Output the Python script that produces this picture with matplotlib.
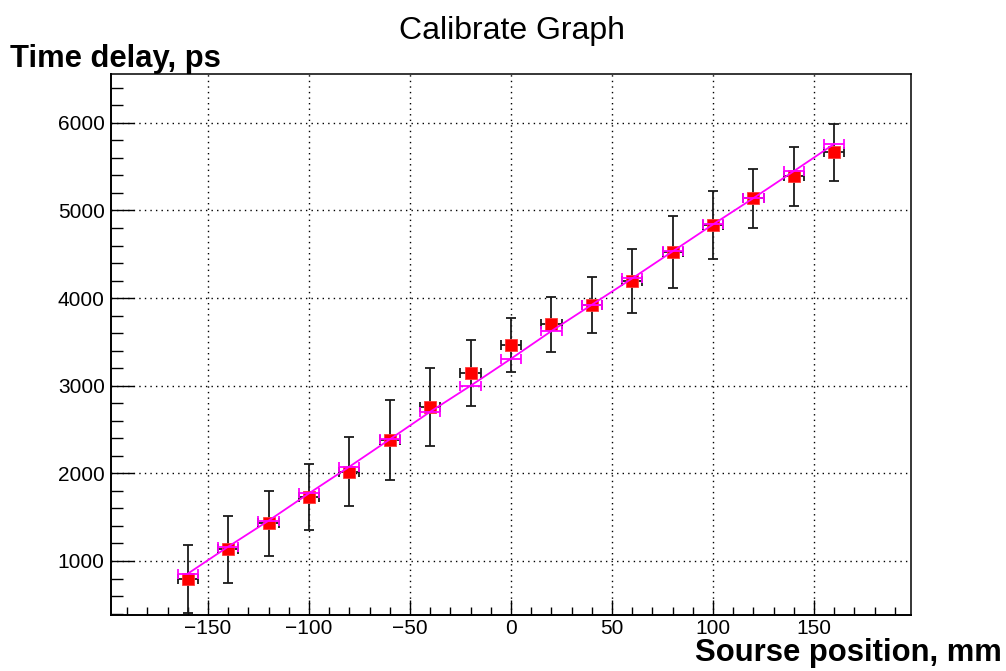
import matplotlib
matplotlib.use("Agg")
import matplotlib.pyplot as plt
from matplotlib.ticker import MultipleLocator

plt.rcParams['font.family'] = ['Liberation Sans', 'DejaVu Sans']

# Source positions (mm) and measured time delays (ps)
position_mm = [-160, -140, -120, -100, -80, -60, -40, -20, 0,
               20, 40, 60, 80, 100, 120, 140, 160]
position_err_mm = [5, 5, 5, 5, 5, 5, 5, 5, 5, 5, 5, 5, 5, 5, 5, 5, 5]
delay_ps = [796, 1133, 1430, 1727, 2019, 2380, 2760, 3148, 3464,
            3700, 3924, 4198, 4525, 4833, 5138, 5388, 5662]
delay_err_ps = [387, 382, 374, 375, 396, 456, 445, 376, 311,
                311, 319, 363, 414, 391, 338, 336, 329]
# Calibration line evaluated at each source position (ps)
calib_ps = [855, 1163, 1460, 1772, 2076, 2388, 2703, 3000, 3308,
            3624, 3924, 4225, 4533, 4841, 5141, 5449, 5760]

fig = plt.figure(figsize=(10.06, 6.71), dpi=100)
ax = fig.add_axes([0.1103, 0.0835, 0.7953, 0.8055])

# measured points with error bars
ax.errorbar(position_mm, delay_ps, yerr=delay_err_ps, xerr=position_err_mm,
            fmt='none', ecolor='#1a1a1a', elinewidth=1.3, capsize=3.8,
            capthick=1.3, zorder=3)
ax.plot(position_mm, delay_ps, 's', color='#ff0000', markersize=8.2,
        markeredgecolor='#ff3a3a', markeredgewidth=0.6, zorder=4)

# calibration line
ax.errorbar(position_mm, calib_ps, xerr=position_err_mm, fmt='-',
            color='#ff00ff', lw=1.3, elinewidth=1.3, capsize=3.8,
            capthick=1.3, zorder=5)

ax.set_xlim(-198, 198)
ax.set_ylim(384, 6552)

ax.xaxis.set_major_locator(MultipleLocator(50))
ax.xaxis.set_minor_locator(MultipleLocator(10))
ax.yaxis.set_major_locator(MultipleLocator(1000))
ax.yaxis.set_minor_locator(MultipleLocator(200))

ax.tick_params(axis='both', which='both', direction='in', width=1.0,
               labelsize=15, color='black')
ax.tick_params(axis='x', which='major', length=10.5, pad=3)
ax.tick_params(axis='x', which='minor', length=5.5)
ax.tick_params(axis='y', which='major', length=16.5, pad=4.5)
ax.tick_params(axis='y', which='minor', length=8.5)
ax.tick_params(top=False, right=False, which='both')

ax.set_yticks([1000, 2000, 3000, 4000, 5000, 6000])
ax.set_xticks([-150, -100, -50, 0, 50, 100, 150])
ax.set_xticklabels(['\u2212150', '\u2212100', '\u221250', '0', '50', '100', '150'])

ax.grid(True, which='major', color='black', linestyle=(0, (1, 3)), linewidth=1.0)
ax.set_axisbelow(True)

for s in ax.spines.values():
    s.set_linewidth(1.1)
    s.set_color('black')
ax.spines['left'].set_linewidth(1.4)
ax.spines['bottom'].set_linewidth(1.4)

fig.text(0.509, 1 - 39 / 671, 'Calibrate Graph', ha='center', va='baseline',
         fontsize=23)
fig.text(10 / 1006, 1 - 67.5 / 671, 'Time delay, ps', ha='left', va='baseline',
         fontsize=22.3, fontweight='bold')
fig.text(1002 / 1006, 1 - 661 / 671, 'Sourse position, mm', ha='right',
         va='baseline', fontsize=22.3, fontweight='bold')

fig.savefig('out.png', dpi=100)
